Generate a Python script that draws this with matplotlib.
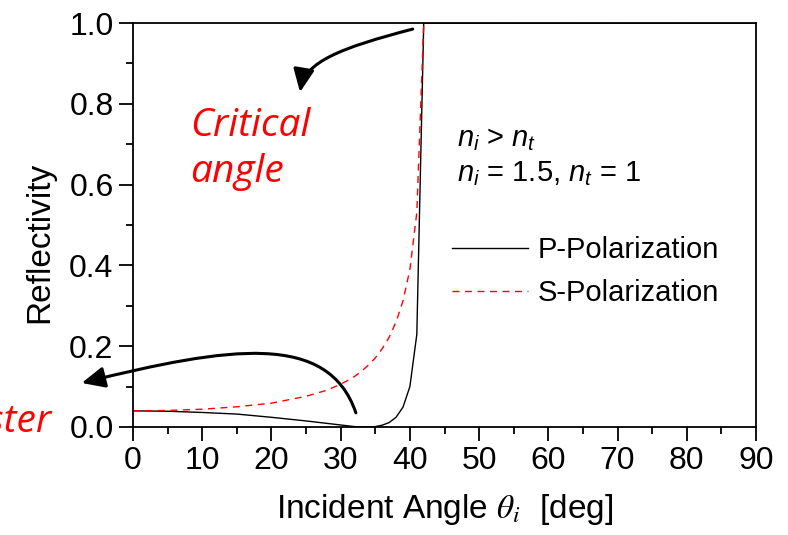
import numpy as np
import matplotlib
matplotlib.use('Agg')
import matplotlib.pyplot as plt
from matplotlib.path import Path
from matplotlib.patches import FancyArrowPatch

plt.rcParams['font.family'] = ['Liberation Sans', 'DejaVu Sans']
plt.rcParams['mathtext.fontset'] = 'custom'
plt.rcParams['mathtext.rm'] = 'Liberation Sans'
plt.rcParams['mathtext.it'] = 'Liberation Sans:italic'

# values (n_i = 1.5 -> n_t = 1)
angle = [0, 5, 10, 15, 20, 25, 28, 30, 31, 32, 33, 34, 35, 36, 37, 38, 39, 40, 41, 42, 50, 60, 70, 80, 90]
r_p = [0.040, 0.039, 0.036, 0.032, 0.024, 0.015, 0.009, 0.005, 0.003, 0.001, 0.0002, 0.0001, 0.001,
       0.0045, 0.011, 0.024, 0.049, 0.100, 0.229, 1.0, 1.0, 1.0, 1.0, 1.0, 1.0]
r_s = [0.040, 0.041, 0.044, 0.050, 0.059, 0.076, 0.091, 0.106, 0.115, 0.125, 0.138, 0.153, 0.171,
       0.194, 0.222, 0.260, 0.312, 0.390, 0.531, 1.0, 1.0, 1.0, 1.0, 1.0, 1.0]

fig = plt.figure(figsize=(7.88, 5.35), dpi=100)
ax = fig.add_axes([133/788, 1-427/535, 623/788, 404/535])

ax.plot(angle, r_p, color='black', lw=1.0, label='P-Polarization')
ax.plot(angle, r_s, color='red', lw=1.0, ls=(0, (5, 4)), label='S-Polarization')

ax.set_xlim(0, 90)
ax.set_ylim(0, 1.0)
ax.set_xticks(np.arange(0, 91, 10))
ax.set_xticks(np.arange(5, 90, 10), minor=True)
ax.set_yticks(np.arange(0, 1.01, 0.2))
ax.set_yticks(np.arange(0.1, 1.0, 0.2), minor=True)
ax.set_yticklabels(['0.0', '0.2', '0.4', '0.6', '0.8', '1.0'])
ax.tick_params(which='major', direction='out', length=10, width=1.3, labelsize=23, pad=4)
ax.tick_params(which='minor', direction='out', length=5, width=1.3)
for s in ax.spines.values():
    s.set_linewidth(1.3)

ax.set_xlabel(r'Incident Angle $\theta_i$  [deg]', fontsize=24, labelpad=11, math_fontfamily='stix')
ax.set_ylabel('Reflectivity', fontsize=24)
ax.yaxis.set_label_coords(-0.125, 0.458)

ax.legend(loc='upper left', bbox_to_anchor=(452/788, 1-236/535), bbox_transform=fig.transFigure,
          frameon=False, fontsize=21, handlelength=2.6, handletextpad=0.35, labelspacing=0.52,
          borderpad=0, borderaxespad=0)

ax.text(457/788, 1-146/535, r'$n_i$ > $n_t$', transform=fig.transFigure, fontsize=21)
ax.text(457/788, 1-181/535, r'$n_i$ = 1.5, $n_t$ = 1', transform=fig.transFigure, fontsize=21)

fig.text(190/788, 1-182/535, 'Critical\nangle', color='red', fontsize=28, style='italic',
         family=['Open Sans', 'DejaVu Sans'], va='baseline', linespacing=1.28)
fig.text(52/788, 1-432/535, 'Brewster', color='red', fontsize=28, style='italic',
         family=['Open Sans', 'DejaVu Sans'], ha='right', va='baseline')

# curved arrows (data coordinates)
arrows = [
    [(40.41, 0.985), (29.9, 0.938), (24.85, 0.9035), (24.13, 0.829)],
    [(32.2, 0.035), (28.2, 0.236), (14.0, 0.2), (-7.41, 0.109)],
]
for pts in arrows:
    p = Path(pts, [Path.MOVETO, Path.CURVE4, Path.CURVE4, Path.CURVE4])
    a = FancyArrowPatch(path=p, arrowstyle='-|>,head_length=0.7,head_width=0.32',
                        mutation_scale=20, lw=2.2, color='black', clip_on=False)
    ax.add_patch(a)

fig.savefig('out.png', dpi=100)
